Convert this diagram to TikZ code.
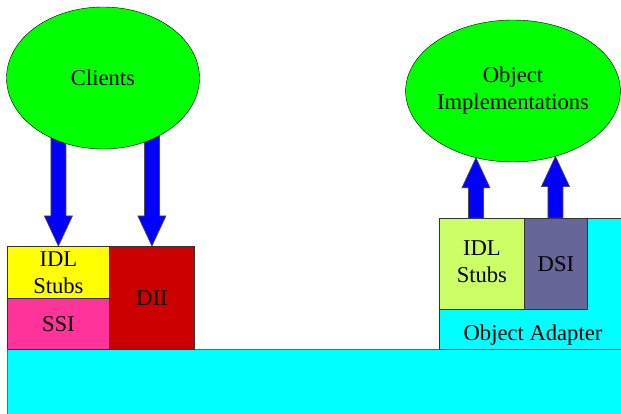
\documentclass[tikz,border=0pt]{standalone}
\usepackage{fontspec}
\setmainfont{Liberation Serif}
\usetikzlibrary{shapes.geometric,calc}
\pgfdeclarelayer{bg}
\pgfsetlayers{bg,main}

\definecolor{blobgreen}{HTML}{00FF00}
\definecolor{arrblue}{HTML}{0000FF}
\definecolor{stubyellow}{HTML}{FFFF00}
\definecolor{ssipink}{HTML}{FF3399}
\definecolor{diired}{HTML}{CC0000}
\definecolor{orbcyan}{HTML}{00FFFF}
\definecolor{skelgreen}{HTML}{CCFF66}
\definecolor{dsipurple}{HTML}{666699}

\tikzset{
  every node/.style={font=\fontsize{22.6}{27}\selectfont},
  blob/.style={ellipse, draw=black, fill=blobgreen, minimum width=193pt,
    minimum height=142pt, inner sep=0pt, align=center},
  box/.style={rectangle, draw=black!80, line width=0.8pt, anchor=north west,
    inner sep=0pt, align=center},
  fatarr/.style={draw=black!70, line width=0.7pt, fill=arrblue}
}

% block arrow: #1 start, #2 tip, #3 head length (signed)
\newcommand{\fatarrow}[3]{%
  \path (#2) coordinate (tip) ++(0,#3) coordinate (hb);
  \draw[fatarr] ($(tip|-#1)+(-7.5,0)$) -- ($(hb)+(-7.5,0)$) -- ($(hb)+(-14,0)$)
    -- (tip) -- ($(hb)+(14,0)$) -- ($(hb)+(7.5,0)$) -- ($(tip|-#1)+(7.5,0)$) -- cycle;}

\begin{document}
\begin{tikzpicture}[x=1pt,y=-1pt]
  \useasboundingbox (0,0) rectangle (621,414);

  % ORB core
  \draw[draw=black!60, line width=0.8pt, fill=orbcyan] (7,418) -- (7,349) -- (626,349) -- (626,418);

  % client side
  \node[box, fill=stubyellow, minimum width=102pt, minimum height=52pt] (idl) at (7,246) {IDL\\Stubs};
  \node[box, fill=ssipink, minimum width=102pt, minimum height=51pt] (ssi) at (7,298) {SSI};
  \node[box, fill=diired, minimum width=85pt, minimum height=103pt] (dii) at (109,246) {DII};

  % server side
  \node[box, fill=orbcyan, minimum width=190pt, minimum height=131pt] (adapter) at (439,218) {};
  \node[anchor=base] (oatext) at (533,340) {Object Adapter};
  \node[box, fill=skelgreen, minimum width=85pt, minimum height=91pt] (stubs) at (439,218) {\raisebox{-2pt}{\begin{tabular}{@{}c@{}}IDL\\Stubs\end{tabular}}};
  \node[box, fill=dsipurple, minimum width=63pt, minimum height=91pt] (dsi) at (524,218) {DSI};

  \node[blob] (clients) at (103,78) {\raisebox{-2pt}{Clients}};
  \node[blob] (impl) at (513,91) {\raisebox{-3pt}{\begin{tabular}{@{}c@{}}Object\\Implementations\end{tabular}}};

  \begin{pgfonlayer}{bg}
    \fatarrow{clients.center}{idl.north}{-30}
    \fatarrow{clients.center}{dii.north}{-30}
  \end{pgfonlayer}
  \fatarrow{stubs.north}{impl.241}{30}
  \fatarrow{dsi.north}{impl.303}{30}
\end{tikzpicture}
\end{document}
